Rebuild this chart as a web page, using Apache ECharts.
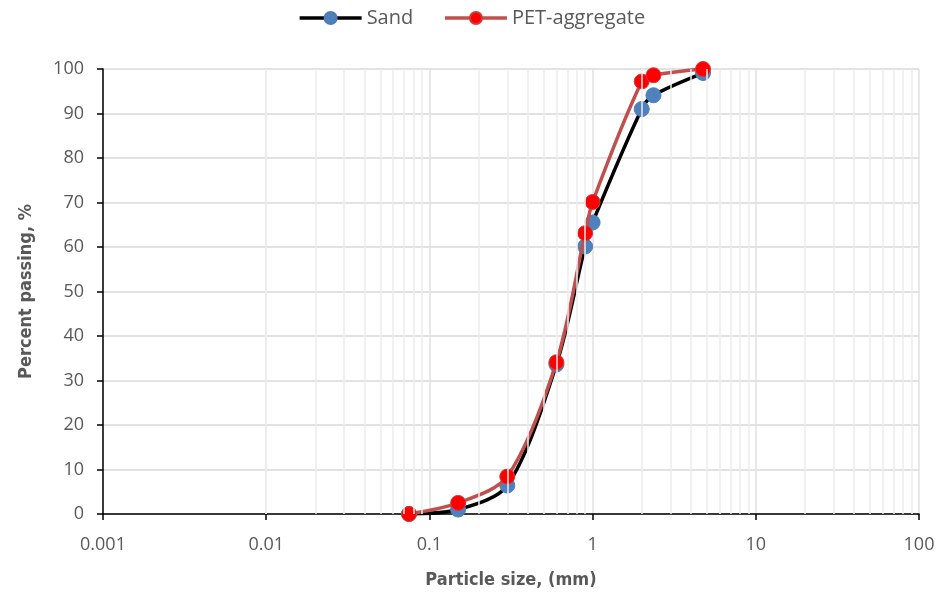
<!DOCTYPE html>
<html><head><meta charset="utf-8">
<script src="https://cdn.jsdelivr.net/npm/echarts@6/dist/echarts.min.js"></script>
<style>html,body{margin:0;padding:0;background:#fff}#c{width:943px;height:598px}</style>
</head><body><div id="c"></div>
<script>
const sizes = [0.075, 0.15, 0.3, 0.6, 0.9, 1.0, 2.0, 2.36, 4.75];
const sand = [0, 1, 6.4, 33.6, 60.1, 65.5, 91, 94.1, 99.1];
const pet = [0, 2.5, 8.4, 34.1, 63.1, 70.1, 97.2, 98.6, 100];
const decades = [0.001, 0.01, 0.1, 1, 10];
const minorMult = [2, 3, 4, 5, 6, 7, 8, 9];

const minorLines = [];
decades.forEach(d => minorMult.forEach(m => minorLines.push({xAxis: +(d * m).toPrecision(3)})));

const chart = echarts.init(document.getElementById('c'));
const labelFont = 'Open Sans';
chart.setOption({
  animation: false,
  legend: {
    top: 3, left: 'center', itemWidth: 62, itemHeight: 15, itemGap: 30,
    textStyle: {fontFamily: labelFont, fontSize: 20, color: '#595959'},
    lineStyle: {width: 3.5},
    data: ['Sand', 'PET-aggregate']
  },
  grid: {left: 103, right: 24, top: 69, bottom: 84},
  xAxis: {
    type: 'log', logBase: 10, min: 0.001, max: 100,
    name: 'Particle size, (mm)', nameLocation: 'middle', nameGap: 57,
    nameTextStyle: {fontFamily: 'DejaVu Sans Condensed', fontWeight: 'bold', fontSize: 18, color: '#595959'},
    axisLine: {show: true, onZero: false, lineStyle: {color: '#000', width: 1.5}},
    axisTick: {show: true, inside: false, length: 6, lineStyle: {color: '#000', width: 1.5}},
    axisLabel: {fontFamily: labelFont, fontSize: 18, color: '#595959', margin: 22,
      formatter: v => String(+v.toPrecision(3))},
    splitLine: {show: true, lineStyle: {color: '#e0e0e0', width: 1.5}}
  },
  yAxis: {
    type: 'value', min: 0, max: 100, interval: 10,
    name: 'Percent passing, %', nameLocation: 'middle', nameGap: 68,
    nameTextStyle: {fontFamily: 'DejaVu Sans Condensed', fontWeight: 'bold', fontSize: 18, color: '#595959'},
    axisLine: {show: true, lineStyle: {color: '#000', width: 1.5}},
    axisTick: {show: true, length: 6, lineStyle: {color: '#000', width: 1.5}},
    axisLabel: {fontFamily: labelFont, fontSize: 18, color: '#595959', margin: 19},
    splitLine: {show: true, lineStyle: {color: '#d9d9d9', width: 1.5}}
  },
  series: [
    {
      name: 'grid-minor', type: 'line', data: [], silent: true,
      markLine: {silent: true, symbol: 'none', label: {show: false},
        lineStyle: {color: '#ededed', width: 1.5, type: 'solid'}, data: minorLines},
      z: 0
    },
    {
      name: 'Sand', type: 'line', smooth: 0.3,
      data: sizes.map((s, i) => [s, sand[i]]),
      symbol: 'circle', symbolSize: 15,
      lineStyle: {color: '#000', width: 3.5},
      itemStyle: {color: '#4f81bd', borderColor: '#4a7ebb', borderWidth: 1},
      z: 3
    },
    {
      name: 'PET-aggregate', type: 'line', smooth: 0.3,
      data: sizes.map((s, i) => [s, pet[i]]),
      symbol: 'circle', symbolSize: 15,
      lineStyle: {color: '#c0504d', width: 3.5},
      itemStyle: {color: '#ff0000', borderColor: '#d03a3a', borderWidth: 1},
      z: 4
    }
  ]
});
</script></body></html>
